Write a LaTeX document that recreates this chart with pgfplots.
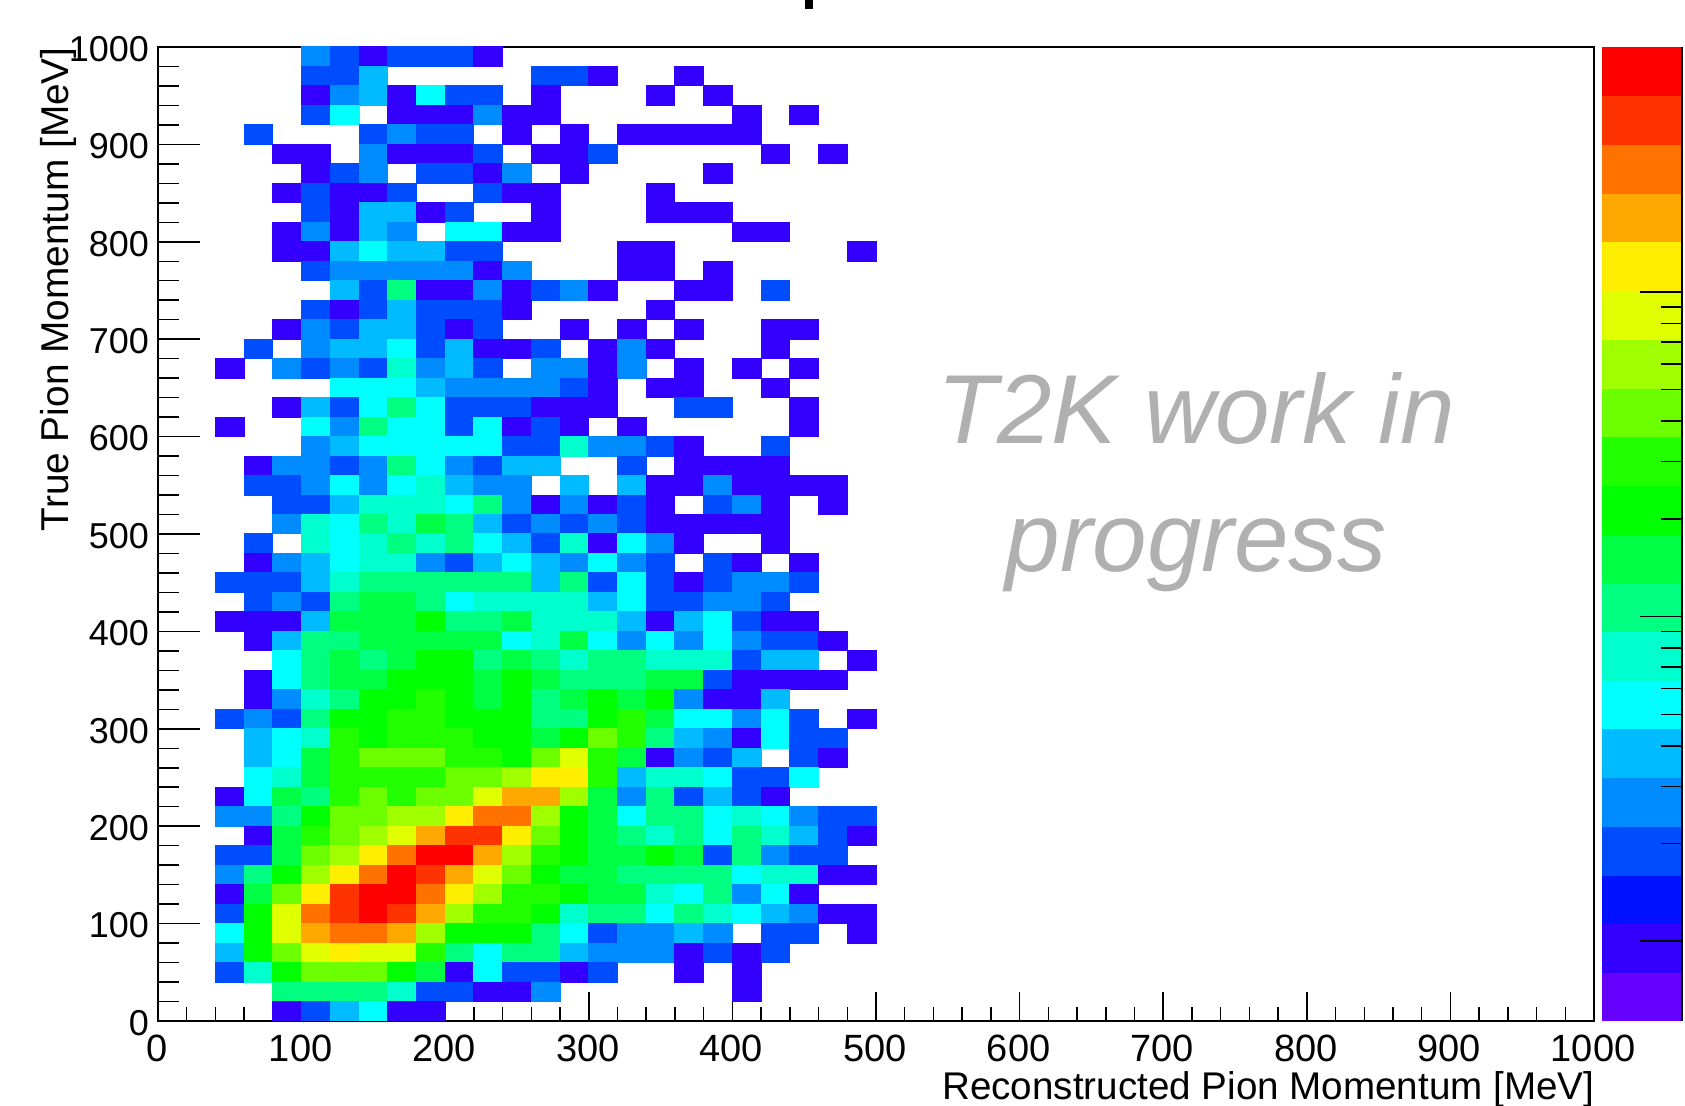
\documentclass[border=0pt]{standalone}
\usepackage{fontspec}
\setmainfont{Liberation Sans}
\usepackage{pgfplots}
\pgfplotsset{compat=1.18}
\definecolor{lvA}{RGB}{102,0,255}
\definecolor{lvB}{RGB}{51,0,255}
\definecolor{lvC}{RGB}{0,17,255}
\definecolor{lvD}{RGB}{0,76,255}
\definecolor{lvE}{RGB}{0,140,255}
\definecolor{lvF}{RGB}{0,187,255}
\definecolor{lvG}{RGB}{0,255,255}
\definecolor{lvH}{RGB}{0,255,204}
\definecolor{lvI}{RGB}{0,255,128}
\definecolor{lvJ}{RGB}{0,255,68}
\definecolor{lvK}{RGB}{0,255,0}
\definecolor{lvL}{RGB}{34,255,0}
\definecolor{lvM}{RGB}{108,255,0}
\definecolor{lvN}{RGB}{160,255,0}
\definecolor{lvO}{RGB}{224,255,0}
\definecolor{lvP}{RGB}{255,238,0}
\definecolor{lvQ}{RGB}{255,168,0}
\definecolor{lvR}{RGB}{255,114,0}
\definecolor{lvS}{RGB}{255,51,0}
\definecolor{lvT}{RGB}{255,0,0}
\definecolor{wmgray}{RGB}{176,176,176}
\pgfplotstableread[row sep=\\]{
x y c\\
110 990 5\\130 990 4\\150 990 2\\170 990 4\\190 990 4\\210 990 4\\230 990 2\\
110 970 4\\130 970 4\\150 970 6\\270 970 4\\290 970 4\\310 970 2\\370 970 2\\
110 950 2\\130 950 5\\150 950 6\\170 950 2\\190 950 7\\210 950 4\\230 950 4\\270 950 2\\350 950 2\\390 950 2\\
110 930 4\\130 930 7\\170 930 2\\190 930 2\\210 930 2\\230 930 5\\250 930 2\\270 930 2\\410 930 2\\450 930 2\\
70 910 4\\150 910 4\\170 910 5\\190 910 4\\210 910 4\\250 910 2\\290 910 2\\330 910 2\\350 910 2\\370 910 2\\390 910 2\\410 910 2\\
90 890 2\\110 890 2\\150 890 5\\170 890 2\\190 890 2\\210 890 2\\230 890 4\\270 890 2\\290 890 2\\310 890 4\\430 890 2\\470 890 2\\
110 870 2\\130 870 4\\150 870 5\\190 870 4\\210 870 4\\230 870 2\\250 870 5\\290 870 2\\390 870 2\\
90 850 2\\110 850 4\\130 850 2\\150 850 2\\170 850 4\\230 850 4\\250 850 2\\270 850 2\\350 850 2\\
110 830 4\\130 830 2\\150 830 6\\170 830 6\\190 830 2\\210 830 4\\270 830 2\\350 830 2\\370 830 2\\390 830 2\\
90 810 2\\110 810 5\\130 810 2\\150 810 6\\170 810 5\\210 810 7\\230 810 7\\250 810 2\\270 810 2\\410 810 2\\430 810 2\\
90 790 2\\110 790 2\\130 790 6\\150 790 7\\170 790 6\\190 790 6\\210 790 4\\230 790 4\\330 790 2\\350 790 2\\490 790 2\\
110 770 4\\130 770 5\\150 770 5\\170 770 5\\190 770 5\\210 770 5\\230 770 2\\250 770 5\\330 770 2\\350 770 2\\390 770 2\\
130 750 6\\150 750 4\\170 750 9\\190 750 2\\210 750 2\\230 750 5\\250 750 2\\270 750 4\\290 750 5\\310 750 2\\370 750 2\\390 750 2\\430 750 4\\
110 730 4\\130 730 2\\150 730 4\\170 730 6\\190 730 4\\210 730 4\\230 730 4\\250 730 2\\350 730 2\\
90 710 2\\110 710 5\\130 710 4\\150 710 6\\170 710 6\\190 710 4\\210 710 2\\230 710 4\\290 710 2\\330 710 2\\370 710 2\\430 710 2\\450 710 2\\
70 690 4\\110 690 5\\130 690 6\\150 690 6\\170 690 7\\190 690 4\\210 690 6\\230 690 2\\250 690 2\\270 690 4\\310 690 2\\330 690 5\\350 690 2\\430 690 2\\
50 670 2\\90 670 5\\110 670 4\\130 670 5\\150 670 4\\170 670 8\\190 670 5\\210 670 6\\230 670 4\\270 670 5\\290 670 5\\310 670 2\\330 670 5\\370 670 2\\410 670 2\\450 670 2\\
130 650 7\\150 650 7\\170 650 7\\190 650 6\\210 650 5\\230 650 5\\250 650 5\\270 650 5\\290 650 4\\310 650 2\\350 650 2\\370 650 2\\430 650 2\\
90 630 2\\110 630 6\\130 630 4\\150 630 7\\170 630 9\\190 630 7\\210 630 4\\230 630 4\\250 630 4\\270 630 2\\290 630 2\\310 630 2\\370 630 4\\390 630 4\\450 630 2\\
50 610 2\\110 610 7\\130 610 5\\150 610 9\\170 610 7\\190 610 7\\210 610 4\\230 610 7\\250 610 2\\270 610 4\\290 610 2\\330 610 2\\450 610 2\\
110 590 5\\130 590 6\\150 590 7\\170 590 7\\190 590 7\\210 590 7\\230 590 7\\250 590 4\\270 590 4\\290 590 8\\310 590 5\\330 590 5\\350 590 4\\370 590 2\\430 590 4\\
70 570 2\\90 570 5\\110 570 5\\130 570 4\\150 570 5\\170 570 9\\190 570 7\\210 570 5\\230 570 4\\250 570 6\\270 570 6\\330 570 4\\370 570 2\\390 570 2\\410 570 2\\430 570 2\\
70 550 4\\90 550 4\\110 550 5\\130 550 7\\150 550 5\\170 550 7\\190 550 8\\210 550 6\\230 550 5\\250 550 5\\290 550 6\\330 550 6\\350 550 2\\370 550 2\\390 550 5\\410 550 2\\430 550 2\\450 550 2\\470 550 2\\
90 530 4\\110 530 4\\130 530 6\\150 530 8\\170 530 8\\190 530 8\\210 530 7\\230 530 9\\250 530 5\\270 530 2\\290 530 5\\310 530 2\\330 530 4\\350 530 2\\390 530 4\\410 530 5\\430 530 2\\470 530 2\\
90 510 5\\110 510 8\\130 510 7\\150 510 9\\170 510 8\\190 510 10\\210 510 9\\230 510 6\\250 510 4\\270 510 5\\290 510 4\\310 510 5\\330 510 4\\350 510 2\\370 510 2\\390 510 2\\410 510 2\\430 510 2\\
70 490 4\\110 490 8\\130 490 7\\150 490 8\\170 490 9\\190 490 8\\210 490 9\\230 490 7\\250 490 6\\270 490 4\\290 490 8\\310 490 2\\330 490 7\\350 490 5\\370 490 2\\430 490 2\\
70 470 2\\90 470 5\\110 470 6\\130 470 7\\150 470 8\\170 470 8\\190 470 5\\210 470 4\\230 470 6\\250 470 7\\270 470 6\\290 470 5\\310 470 7\\330 470 5\\350 470 4\\390 470 4\\410 470 2\\450 470 2\\
50 450 4\\70 450 4\\90 450 4\\110 450 6\\130 450 8\\150 450 9\\170 450 9\\190 450 9\\210 450 9\\230 450 9\\250 450 9\\270 450 6\\290 450 9\\310 450 4\\330 450 7\\350 450 4\\370 450 2\\390 450 4\\410 450 5\\430 450 5\\450 450 4\\
70 430 4\\90 430 5\\110 430 4\\130 430 9\\150 430 10\\170 430 10\\190 430 9\\210 430 7\\230 430 8\\250 430 8\\270 430 8\\290 430 8\\310 430 6\\330 430 7\\350 430 4\\370 430 4\\390 430 5\\410 430 5\\430 430 4\\
50 410 2\\70 410 2\\90 410 2\\110 410 6\\130 410 10\\150 410 10\\170 410 10\\190 410 11\\210 410 9\\230 410 9\\250 410 10\\270 410 8\\290 410 8\\310 410 8\\330 410 6\\350 410 2\\370 410 6\\390 410 7\\410 410 4\\430 410 2\\450 410 2\\
70 390 2\\90 390 6\\110 390 9\\130 390 9\\150 390 10\\170 390 10\\190 390 10\\210 390 10\\230 390 10\\250 390 7\\270 390 8\\290 390 10\\310 390 7\\330 390 5\\350 390 7\\370 390 5\\390 390 7\\410 390 5\\430 390 4\\450 390 4\\470 390 2\\
90 370 7\\110 370 9\\130 370 10\\150 370 9\\170 370 10\\190 370 11\\210 370 11\\230 370 9\\250 370 10\\270 370 9\\290 370 8\\310 370 9\\330 370 9\\350 370 8\\370 370 8\\390 370 8\\410 370 4\\430 370 6\\450 370 6\\490 370 2\\
70 350 2\\90 350 7\\110 350 9\\130 350 10\\150 350 10\\170 350 11\\190 350 11\\210 350 11\\230 350 10\\250 350 11\\270 350 10\\290 350 9\\310 350 9\\330 350 9\\350 350 10\\370 350 10\\390 350 4\\410 350 2\\430 350 2\\450 350 2\\470 350 2\\
70 330 2\\90 330 5\\110 330 8\\130 330 9\\150 330 11\\170 330 11\\190 330 12\\210 330 11\\230 330 10\\250 330 11\\270 330 9\\290 330 10\\310 330 11\\330 330 10\\350 330 11\\370 330 5\\390 330 2\\410 330 2\\430 330 6\\
50 310 4\\70 310 5\\90 310 4\\110 310 9\\130 310 11\\150 310 11\\170 310 12\\190 310 12\\210 310 11\\230 310 11\\250 310 11\\270 310 9\\290 310 9\\310 310 11\\330 310 12\\350 310 10\\370 310 7\\390 310 7\\410 310 5\\430 310 7\\450 310 4\\490 310 2\\
70 290 6\\90 290 7\\110 290 8\\130 290 12\\150 290 11\\170 290 12\\190 290 12\\210 290 12\\230 290 11\\250 290 11\\270 290 10\\290 290 11\\310 290 13\\330 290 12\\350 290 9\\370 290 6\\390 290 5\\410 290 2\\430 290 7\\450 290 4\\470 290 4\\
70 270 6\\90 270 7\\110 270 10\\130 270 12\\150 270 13\\170 270 13\\190 270 13\\210 270 12\\230 270 12\\250 270 11\\270 270 13\\290 270 15\\310 270 12\\330 270 10\\350 270 2\\370 270 5\\390 270 4\\410 270 6\\450 270 4\\470 270 2\\
70 250 7\\90 250 8\\110 250 10\\130 250 12\\150 250 12\\170 250 12\\190 250 12\\210 250 13\\230 250 13\\250 250 14\\270 250 16\\290 250 16\\310 250 12\\330 250 6\\350 250 8\\370 250 8\\390 250 7\\410 250 4\\430 250 4\\450 250 7\\
50 230 2\\70 230 7\\90 230 10\\110 230 9\\130 230 12\\150 230 13\\170 230 12\\190 230 13\\210 230 13\\230 230 15\\250 230 17\\270 230 17\\290 230 14\\310 230 10\\330 230 5\\350 230 9\\370 230 4\\390 230 6\\410 230 4\\430 230 2\\
50 210 5\\70 210 5\\90 210 9\\110 210 11\\130 210 13\\150 210 13\\170 210 14\\190 210 14\\210 210 16\\230 210 18\\250 210 18\\270 210 14\\290 210 11\\310 210 10\\330 210 7\\350 210 9\\370 210 9\\390 210 7\\410 210 8\\430 210 7\\450 210 5\\470 210 4\\490 210 4\\
70 190 2\\90 190 10\\110 190 12\\130 190 13\\150 190 14\\170 190 15\\190 190 17\\210 190 19\\230 190 19\\250 190 16\\270 190 13\\290 190 11\\310 190 10\\330 190 9\\350 190 8\\370 190 9\\390 190 7\\410 190 9\\430 190 8\\450 190 6\\470 190 4\\490 190 2\\
50 170 4\\70 170 4\\90 170 10\\110 170 13\\130 170 14\\150 170 16\\170 170 18\\190 170 20\\210 170 20\\230 170 17\\250 170 14\\270 170 12\\290 170 11\\310 170 10\\330 170 10\\350 170 11\\370 170 10\\390 170 4\\410 170 9\\430 170 5\\450 170 4\\470 170 4\\
50 150 5\\70 150 9\\90 150 11\\110 150 14\\130 150 16\\150 150 18\\170 150 20\\190 150 19\\210 150 17\\230 150 15\\250 150 13\\270 150 11\\290 150 10\\310 150 10\\330 150 9\\350 150 9\\370 150 9\\390 150 9\\410 150 7\\430 150 8\\450 150 8\\470 150 2\\490 150 2\\
50 130 2\\70 130 10\\90 130 13\\110 130 16\\130 130 19\\150 130 20\\170 130 20\\190 130 18\\210 130 16\\230 130 14\\250 130 12\\270 130 12\\290 130 11\\310 130 10\\330 130 10\\350 130 8\\370 130 7\\390 130 9\\410 130 5\\430 130 7\\450 130 2\\
50 110 4\\70 110 11\\90 110 15\\110 110 18\\130 110 19\\150 110 20\\170 110 19\\190 110 17\\210 110 14\\230 110 12\\250 110 12\\270 110 11\\290 110 8\\310 110 9\\330 110 9\\350 110 7\\370 110 9\\390 110 8\\410 110 7\\430 110 6\\450 110 5\\470 110 2\\490 110 2\\
50 90 7\\70 90 11\\90 90 15\\110 90 17\\130 90 18\\150 90 18\\170 90 17\\190 90 14\\210 90 11\\230 90 11\\250 90 11\\270 90 9\\290 90 7\\310 90 4\\330 90 5\\350 90 5\\370 90 6\\390 90 5\\430 90 4\\450 90 4\\490 90 2\\
50 70 6\\70 70 11\\90 70 13\\110 70 15\\130 70 16\\150 70 15\\170 70 15\\190 70 12\\210 70 9\\230 70 7\\250 70 9\\270 70 9\\290 70 6\\310 70 5\\330 70 5\\350 70 5\\370 70 2\\390 70 4\\410 70 2\\430 70 4\\
50 50 4\\70 50 8\\90 50 11\\110 50 13\\130 50 13\\150 50 13\\170 50 11\\190 50 10\\210 50 2\\230 50 7\\250 50 4\\270 50 4\\290 50 2\\310 50 4\\370 50 2\\410 50 2\\
90 30 9\\110 30 9\\130 30 9\\150 30 9\\170 30 8\\190 30 4\\210 30 4\\230 30 2\\250 30 2\\270 30 5\\410 30 2\\
90 10 2\\110 10 4\\130 10 6\\150 10 7\\170 10 2\\190 10 2\\
}\histtable
\begin{document}
\begin{tikzpicture}
\useasboundingbox (0,0) rectangle (842.5pt,553pt);
\begin{axis}[
  at={(79pt,42.5pt)}, anchor=south west,
  scale only axis, width=718pt, height=487pt,
  xmin=0, xmax=1000, ymin=0, ymax=1000,
  xtick={0,100,...,1000}, ytick={0,100,...,1000},
  minor x tick num=4, minor y tick num=4,
  xtick pos=lower, ytick pos=left,
  tick align=inside, axis on top,
  axis line style={line width=1pt},
  major x tick style={line width=0.75pt,black,/pgfplots/major tick length=14.5pt},
  minor x tick style={line width=0.75pt,black,/pgfplots/minor tick length=7.2pt},
  major y tick style={line width=0.75pt,black,/pgfplots/major tick length=21pt},
  minor y tick style={line width=0.75pt,black,/pgfplots/minor tick length=10.4pt},
  /pgf/number format/assume math mode=true,
  /pgf/number format/1000 sep={},
  xticklabel style={font=\fontsize{19}{22}\selectfont, anchor=base, yshift=-20.5pt, xshift=-0.5pt},
  yticklabel style={font=\fontsize{18}{21}\selectfont, xshift=-1pt, yshift=-1pt},
  xlabel={Reconstructed Pion Momentum [MeV]},
  ylabel={True Pion Momentum [MeV]},
  xlabel style={font=\fontsize{19.3}{22}\selectfont, inner sep=0pt, at={(axis description cs:1.0005,-0.0808)}, anchor=base east},
  ylabel style={font=\fontsize{19.4}{23}\selectfont, inner sep=0pt, at={(axis description cs:-0.0625,1)}, anchor=base east},
  colormap={tk}{rgb255=(255,255,255) rgb255=(102,0,255) rgb255=(51,0,255) rgb255=(0,17,255) rgb255=(0,76,255) rgb255=(0,140,255) rgb255=(0,187,255) rgb255=(0,255,255) rgb255=(0,255,204) rgb255=(0,255,128) rgb255=(0,255,68) rgb255=(0,255,0) rgb255=(34,255,0) rgb255=(108,255,0) rgb255=(160,255,0) rgb255=(224,255,0) rgb255=(255,238,0) rgb255=(255,168,0) rgb255=(255,114,0) rgb255=(255,51,0) rgb255=(255,0,0)},
  point meta min=0, point meta max=20,
]
\addplot[scatter, only marks, mark=square*, mark size=7.18pt,
  mark options={yscale=0.678, line width=0pt},
  scatter src=explicit,
  scatter/use mapped color={draw=mapped color, fill=mapped color}]
  table[x=x, y=y, meta=c] {\histtable};
\node[anchor=base, text=wmgray, font=\itshape\fontsize{49}{50}\selectfont] at (axis cs:723,593) {T2K work in};
\node[anchor=base, text=wmgray, font=\itshape\fontsize{49}{50}\selectfont] at (axis cs:723,462) {progress};
\end{axis}
\begin{axis}[
  at={(801pt,42.5pt)}, anchor=south west,
  scale only axis, width=40pt, height=487pt,
  xmin=0, xmax=1, ymode=log, ymin=0.568, ymax=568,
  axis x line=none, axis y line=right,
  axis line style={line width=1pt, -},
  ytick={1,10,100}, yticklabels={}, tick align=inside, axis on top,
  ytick style={line width=0.75pt,black},
  minor tick style={line width=0.75pt,black},
  major tick length=21pt, minor tick length=10.4pt,
  every axis plot/.append style={no markers},
]
\addplot[fill=lvA,draw=lvA,line width=0.1pt] coordinates {(0,0.568)(1,0.568)(1,0.803)(0,0.803)} --cycle;
\addplot[fill=lvB,draw=lvB,line width=0.1pt] coordinates {(0,0.803)(1,0.803)(1,1.134)(0,1.134)} --cycle;
\addplot[fill=lvC,draw=lvC,line width=0.1pt] coordinates {(0,1.134)(1,1.134)(1,1.60)(0,1.60)} --cycle;
\addplot[fill=lvD,draw=lvD,line width=0.1pt] coordinates {(0,1.60)(1,1.60)(1,2.26)(0,2.26)} --cycle;
\addplot[fill=lvE,draw=lvE,line width=0.1pt] coordinates {(0,2.26)(1,2.26)(1,3.20)(0,3.20)} --cycle;
\addplot[fill=lvF,draw=lvF,line width=0.1pt] coordinates {(0,3.20)(1,3.20)(1,4.52)(0,4.52)} --cycle;
\addplot[fill=lvG,draw=lvG,line width=0.1pt] coordinates {(0,4.52)(1,4.52)(1,6.38)(0,6.38)} --cycle;
\addplot[fill=lvH,draw=lvH,line width=0.1pt] coordinates {(0,6.38)(1,6.38)(1,9.02)(0,9.02)} --cycle;
\addplot[fill=lvI,draw=lvI,line width=0.1pt] coordinates {(0,9.02)(1,9.02)(1,12.7)(0,12.7)} --cycle;
\addplot[fill=lvJ,draw=lvJ,line width=0.1pt] coordinates {(0,12.7)(1,12.7)(1,18.0)(0,18.0)} --cycle;
\addplot[fill=lvK,draw=lvK,line width=0.1pt] coordinates {(0,18.0)(1,18.0)(1,25.4)(0,25.4)} --cycle;
\addplot[fill=lvL,draw=lvL,line width=0.1pt] coordinates {(0,25.4)(1,25.4)(1,35.9)(0,35.9)} --cycle;
\addplot[fill=lvM,draw=lvM,line width=0.1pt] coordinates {(0,35.9)(1,35.9)(1,50.7)(0,50.7)} --cycle;
\addplot[fill=lvN,draw=lvN,line width=0.1pt] coordinates {(0,50.7)(1,50.7)(1,71.6)(0,71.6)} --cycle;
\addplot[fill=lvO,draw=lvO,line width=0.1pt] coordinates {(0,71.6)(1,71.6)(1,101)(0,101)} --cycle;
\addplot[fill=lvP,draw=lvP,line width=0.1pt] coordinates {(0,101)(1,101)(1,143)(0,143)} --cycle;
\addplot[fill=lvQ,draw=lvQ,line width=0.1pt] coordinates {(0,143)(1,143)(1,202)(0,202)} --cycle;
\addplot[fill=lvR,draw=lvR,line width=0.1pt] coordinates {(0,202)(1,202)(1,285)(0,285)} --cycle;
\addplot[fill=lvS,draw=lvS,line width=0.1pt] coordinates {(0,285)(1,285)(1,403)(0,403)} --cycle;
\addplot[fill=lvT,draw=lvT,line width=0.1pt] coordinates {(0,403)(1,403)(1,568)(0,568)} --cycle;
\end{axis}
\fill[black] (402.5pt,553pt) rectangle (406.5pt,548.25pt);
\end{tikzpicture}
\end{document}
